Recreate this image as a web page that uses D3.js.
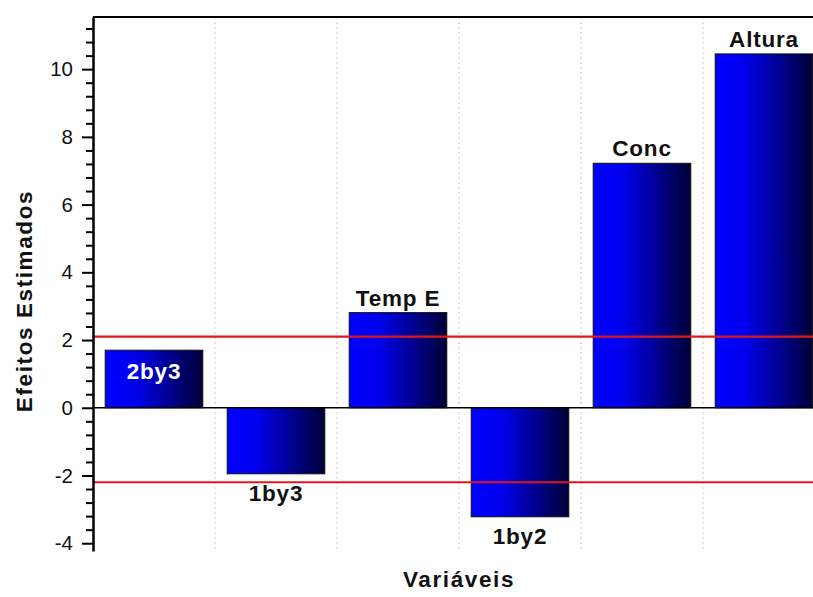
<!DOCTYPE html>
<html>
<head>
<meta charset="utf-8">
<script src="https://cdn.jsdelivr.net/npm/d3@7"></script>
<style>
  body { margin: 0; background: #fff; }
  svg { display: block; }
</style>
</head>
<body>
<svg width="813" height="597"></svg>
<script>
// effect estimates per variable
const variables = ['2by3', '1by3', 'Temp E', '1by2', 'Conc', 'Altura'];
const effects = [1.70, -1.95, 2.81, -3.22, 7.22, 10.45];
// significance limits (red lines)
const limits = [2.10, -2.20];
const yTicks = [-4, -2, 0, 2, 4, 6, 8, 10];

const svg = d3.select('svg');
const margin = { top: 17, left: 93, bottom: 46 };
const height = 597 - margin.top - margin.bottom;
const plotRight = 825;

const font = '"Liberation Sans", Arial, sans-serif';

const xScale = d3.scaleBand()
  .domain(variables)
  .range([margin.left, plotRight])
  .paddingInner(0.2)
  .paddingOuter(0.1);

const yScale = d3.scaleLinear()
  .domain([-4.23, 11.54])
  .range([margin.top + height, margin.top]);

const defs = svg.append('defs');
const grad = defs.append('linearGradient')
  .attr('id', 'barGrad')
  .attr('x1', '0%').attr('x2', '100%')
  .attr('y1', '0%').attr('y2', '0%');
grad.append('stop').attr('offset', '0%').attr('stop-color', '#0000ff');
grad.append('stop').attr('offset', '30%').attr('stop-color', '#0000ee');
grad.append('stop').attr('offset', '100%').attr('stop-color', '#000036');

// vertical dotted grid between categories
const step = xScale.step();
const gridX = variables.slice(1).map((d, i) => margin.left + step * (i + 1));
svg.append('g')
  .selectAll('line')
  .data(gridX)
  .join('line')
  .attr('x1', d => d).attr('x2', d => d)
  .attr('y1', margin.top).attr('y2', margin.top + height)
  .attr('stroke', '#c8c8c8')
  .attr('stroke-width', 1)
  .attr('stroke-dasharray', '2,3');

// bars
const data = variables.map((v, i) => ({ name: v, value: effects[i] }));
svg.append('g')
  .selectAll('rect')
  .data(data)
  .join('rect')
  .attr('x', d => xScale(d.name))
  .attr('y', d => yScale(Math.max(0, d.value)))
  .attr('width', xScale.bandwidth())
  .attr('height', d => Math.abs(yScale(d.value) - yScale(0)))
  .attr('fill', 'url(#barGrad)')
  .attr('stroke', '#111')
  .attr('stroke-width', 1);

// zero line
svg.append('line')
  .attr('x1', margin.left).attr('x2', plotRight)
  .attr('y1', yScale(0)).attr('y2', yScale(0))
  .attr('stroke', '#000').attr('stroke-width', 1.5);

// red limit lines
svg.append('g')
  .selectAll('line')
  .data(limits)
  .join('line')
  .attr('x1', margin.left).attr('x2', plotRight)
  .attr('y1', d => yScale(d)).attr('y2', d => yScale(d))
  .attr('stroke', '#e0161b')
  .attr('stroke-width', 2.2);

// bar labels
svg.append('g')
  .selectAll('text')
  .data(data)
  .join('text')
  .attr('x', d => xScale(d.name) + xScale.bandwidth() / 2)
  .attr('y', (d, i) => {
    if (i === 0) return yScale(d.value) + 29;
    return d.value >= 0 ? yScale(d.value) - 7 : yScale(d.value) + 27;
  })
  .attr('text-anchor', 'middle')
  .attr('font-family', font)
  .attr('font-weight', 'bold')
  .attr('font-size', 22.5)
  .attr('letter-spacing', 0.8)
  .attr('fill', (d, i) => i === 0 ? '#fff' : '#111')
  .text(d => d.name);

// top frame line
svg.append('line')
  .attr('x1', margin.left).attr('x2', plotRight)
  .attr('y1', margin.top).attr('y2', margin.top)
  .attr('stroke', '#000').attr('stroke-width', 2);

// left axis with minor ticks
const minorTicks = d3.range(-4.0, 11.41, 0.4).filter(v => Math.abs(v / 2 - Math.round(v / 2)) > 0.01);
svg.append('g')
  .attr('transform', `translate(${margin.left},0)`)
  .call(d3.axisLeft(yScale).tickValues(minorTicks).tickSize(7).tickFormat(''))
  .call(g => g.select('.domain').remove())
  .selectAll('line').attr('stroke-width', 2);

const yAxis = svg.append('g')
  .attr('transform', `translate(${margin.left},0)`)
  .call(d3.axisLeft(yScale).tickValues(yTicks).tickSize(11).tickPadding(9)
    .tickSizeOuter(0).tickFormat(d => String(d)));
yAxis.select('.domain').attr('stroke-width', 2.5);
yAxis.selectAll('.tick line').attr('stroke-width', 2);
yAxis.selectAll('.tick text')
  .attr('font-family', font)
  .attr('font-size', 20.5)
  .attr('fill', '#111');

// axis titles
svg.append('text')
  .attr('transform', 'translate(32,301) rotate(-90)')
  .attr('text-anchor', 'middle')
  .attr('font-family', font)
  .attr('font-weight', 'bold')
  .attr('font-size', 22.5)
  .attr('letter-spacing', 1.6)
  .attr('fill', '#111')
  .text('Efeitos Estimados');

svg.append('text')
  .attr('x', 459)
  .attr('y', 587)
  .attr('text-anchor', 'middle')
  .attr('font-family', font)
  .attr('font-weight', 'bold')
  .attr('font-size', 22.5)
  .attr('letter-spacing', 1.6)
  .attr('fill', '#111')
  .text('Variáveis');
</script>
</body>
</html>
